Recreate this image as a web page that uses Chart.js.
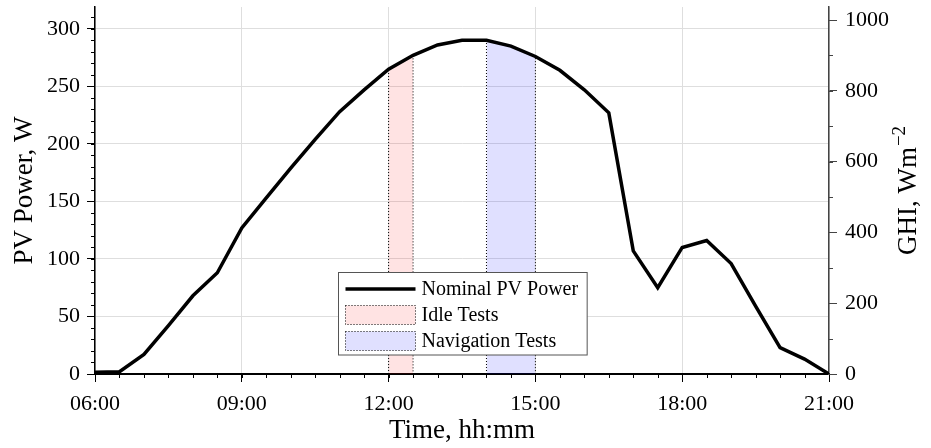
<!DOCTYPE html>
<html>
<head>
<meta charset="utf-8">
<title>Nominal PV Power</title>
<script src="https://cdn.jsdelivr.net/npm/chart.js@4.4.0/dist/chart.umd.min.js"></script>
<style>
  html, body { margin: 0; padding: 0; background: #fff; }
  #chart { display: block; }
</style>
</head>
<body>
<canvas id="chart" width="931" height="448"></canvas>
<script>
// === Donnees ===
const timeLabels = ['06:00','06:30','07:00','07:30','08:00','08:30','09:00','09:30','10:00','10:30',
  '11:00','11:30','12:00','12:30','13:00','13:30','14:00','14:30','15:00','15:30',
  '16:00','16:30','17:00','17:30','18:00','18:30','19:00','19:30','20:00','20:30','21:00'];
const pvPower = [1.5, 2, 17, 42, 68, 88, 127, 153, 179, 204,
  228, 247, 265, 277, 286, 290, 290, 285, 276, 264,
  247, 227, 107, 75, 110, 116, 96, 59, 23, 13, 0];
const xTickLabels = ['06:00','09:00','12:00','15:00','18:00','21:00'];
const powerTicks = [0, 50, 100, 150, 200, 250, 300];
const ghiTicks = [0, 200, 400, 600, 800, 1000];
const idleTests = ['12:00', '12:30'];
const navigationTests = ['14:00', '15:00'];
const legendLabels = ['Nominal PV Power', 'Idle Tests', 'Navigation Tests'];

const FONT = "'Liberation Serif', 'Times New Roman', serif";

function toHours(label) {
  const [h, m] = label.split(':').map(Number);
  return h + m / 60;
}

const powerPoints = timeLabels.map((t, i) => ({ x: toHours(t), y: pvPower[i] }));

// zone sous la courbe entre deux heures, fermee jusqu'a zero
function bandPoints(range) {
  const a = toHours(range[0]), b = toHours(range[1]);
  const inside = powerPoints.filter(p => p.x >= a && p.x <= b);
  return [{ x: a, y: 0 }, ...inside, { x: b, y: 0 }];
}

// pas de marge auto pour les labels qui debordent
function noPad(s) {
  s.paddingTop = 0;
  s.paddingBottom = 0;
}

// === Petites graduations + titre droit ===
const minorTicks = {
  id: 'minorTicks',
  afterDraw(chart) {
    const { ctx, scales: { x, y, y2 } } = chart;
    ctx.save();
    ctx.lineWidth = 1;
    ctx.strokeStyle = '#000';
    ctx.beginPath();
    for (let v = x.min; v <= x.max + 1e-6; v += 0.5) {
      const px = Math.round(x.getPixelForValue(v)) + 0.5;
      ctx.moveTo(px, x.top);
      ctx.lineTo(px, x.top + 4);
    }
    for (let v = 0; v <= y.max; v += 10) {
      const py = Math.round(y.getPixelForValue(v)) + 0.5;
      ctx.moveTo(y.right, py);
      ctx.lineTo(y.right - 4, py);
    }
    ctx.stroke();
    ctx.strokeStyle = '#444';
    ctx.beginPath();
    for (let v = 0; v <= y2.max; v += 100) {
      const py = Math.round(y2.getPixelForValue(v)) + 0.5;
      ctx.moveTo(y2.left, py);
      ctx.lineTo(y2.left + 4, py);
    }
    ctx.stroke();

    // titre axe droit, lu de bas en haut, avec exposant
    const main = 'GHI, Wm', sup = '\u22122';
    ctx.fillStyle = '#000';
    ctx.textBaseline = 'alphabetic';
    ctx.textAlign = 'left';
    ctx.font = '27px ' + FONT;
    const wMain = ctx.measureText(main).width;
    ctx.font = '19px ' + FONT;
    const wSup = ctx.measureText(sup).width;
    ctx.translate(y2.right - 15, (chart.chartArea.top + chart.chartArea.bottom) / 2);
    ctx.rotate(-Math.PI / 2);
    const x0 = -(wMain + wSup + 1) / 2;
    ctx.font = '27px ' + FONT;
    ctx.fillText(main, x0, 0);
    ctx.font = '19px ' + FONT;
    ctx.fillText(sup, x0 + wMain + 1, -11);
    ctx.restore();
  }
};

// === Legende ===
const boxLegend = {
  id: 'boxLegend',
  afterDraw(chart) {
    const { ctx, chartArea } = chart;
    ctx.save();
    ctx.font = '20px ' + FONT;
    const textW = Math.max(...legendLabels.map(l => ctx.measureText(l).width));
    const swatchW = 70, padL = 7, gap = 6, padR = 9, rowH = 26;
    const w = padL + swatchW + gap + textW + padR;
    const h = rowH * 3 + 4.5;
    const left = Math.round((chartArea.left + chartArea.right) / 2 - w / 2) + 0.5;
    const top = Math.round(chartArea.bottom - 20 - h) + 0.5;

    ctx.fillStyle = '#fff';
    ctx.fillRect(left, top, w, h);
    ctx.strokeStyle = '#555';
    ctx.lineWidth = 1;
    ctx.strokeRect(left, top, w, h);

    const fills = [null, 'rgba(255, 0, 0, 0.11)', 'rgba(0, 0, 255, 0.12)'];
    legendLabels.forEach((label, i) => {
      const cy = top + 3.5 + rowH / 2 + i * rowH;
      const sx = left + padL;
      if (i === 0) {
        ctx.strokeStyle = '#000';
        ctx.lineWidth = 3.5;
        ctx.setLineDash([]);
        ctx.beginPath();
        ctx.moveTo(sx, cy);
        ctx.lineTo(sx + swatchW, cy);
        ctx.stroke();
      } else {
        ctx.fillStyle = fills[i];
        ctx.fillRect(sx, cy - 9.5, swatchW, 19);
        ctx.strokeStyle = '#000';
        ctx.lineWidth = 1;
        ctx.setLineDash([1, 2]);
        ctx.strokeRect(sx, cy - 9.5, swatchW, 19);
        ctx.setLineDash([]);
      }
      ctx.fillStyle = '#000';
      ctx.textAlign = 'left';
      ctx.textBaseline = 'middle';
      ctx.fillText(label, sx + swatchW + gap, cy + 1);
    });
    ctx.restore();
  }
};

// === Graphique ===
const ctx = document.getElementById('chart').getContext('2d');
new Chart(ctx, {
  type: 'line',
  data: {
    datasets: [
      {
        label: legendLabels[0],
        data: powerPoints,
        borderColor: '#000',
        borderWidth: 3.5,
        pointRadius: 0,
        tension: 0,
        fill: false,
        order: 0
      },
      {
        label: legendLabels[1],
        data: bandPoints(idleTests),
        borderColor: '#000',
        borderWidth: 1,
        borderDash: [1, 2],
        backgroundColor: 'rgba(255, 0, 0, 0.11)',
        pointRadius: 0,
        tension: 0,
        fill: 'origin',
        order: 1
      },
      {
        label: legendLabels[2],
        data: bandPoints(navigationTests),
        borderColor: '#000',
        borderWidth: 1,
        borderDash: [1, 2],
        backgroundColor: 'rgba(0, 0, 255, 0.12)',
        pointRadius: 0,
        tension: 0,
        fill: 'origin',
        order: 1
      }
    ]
  },
  options: {
    responsive: false,
    animation: false,
    layout: { padding: { top: 7, left: 0, right: 0, bottom: 0 } },
    plugins: { legend: { display: false }, tooltip: { enabled: false } },
    scales: {
      x: {
        type: 'linear',
        min: toHours(xTickLabels[0]),
        max: toHours(xTickLabels[xTickLabels.length - 1]),
        afterBuildTicks: s => { s.ticks = xTickLabels.map(t => ({ value: toHours(t) })); },
        afterFit: s => { s.height = 74; s.paddingLeft = 0; s.paddingRight = 0; },
        grid: { color: '#dedede', lineWidth: 1, tickColor: '#000', tickLength: 8 },
        border: { color: '#000', width: 2 },
        ticks: {
          color: '#000',
          padding: 9,
          maxRotation: 0,
          font: { family: FONT, size: 22 },
          callback: (v, i) => xTickLabels[i]
        },
        title: {
          display: true,
          text: 'Time, hh:mm',
          color: '#000',
          font: { family: FONT, size: 27 },
          padding: { top: 0, bottom: 1 }
        }
      },
      y: {
        position: 'left',
        min: 0,
        max: 319,
        afterBuildTicks: s => { s.ticks = powerTicks.map(v => ({ value: v })); },
        afterFit: s => { s.width = 95; noPad(s); },
        grid: { color: '#dedede', lineWidth: 1, tickColor: '#000', tickLength: 8 },
        border: { color: '#000', width: 1.5 },
        ticks: { color: '#000', padding: 7, font: { family: FONT, size: 22 }, callback: v => String(v) },
        title: {
          display: true,
          text: 'PV Power, W',
          color: '#000',
          font: { family: FONT, size: 27 },
          padding: { top: 9, bottom: 0 }
        }
      },
      y2: {
        position: 'right',
        min: 0,
        max: 1037,
        afterBuildTicks: s => { s.ticks = ghiTicks.map(v => ({ value: v })); },
        afterFit: s => { s.width = 102; noPad(s); },
        grid: { drawOnChartArea: false, tickColor: '#444', tickLength: 8 },
        border: { color: '#444', width: 1.5 },
        ticks: { color: '#000', padding: 8, font: { family: FONT, size: 22 }, callback: v => String(v) }
      }
    }
  },
  plugins: [minorTicks, boxLegend]
});
</script>
</body>
</html>
